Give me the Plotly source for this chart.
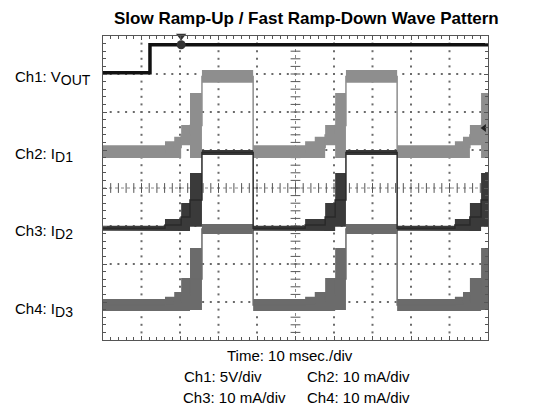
import plotly.graph_objects as go

# ---------------- data ----------------
# time in ms (10 ms/div), currents in mA relative to each channel's baseline marker
seg_start_ms = [0.0, 16.1, 18.5, 20.3, 22.6, 25.7, 39.0, 52.5, 55.0, 57.7, 60.3, 63.1,
                76.4, 91.4, 93.5, 95.3, 98.2]
end_ms = 100.0
# phase index of each segment: 0 base, 1 step1a, 2 step1b, 3 step2, 4 step3, 5 high
seg_phase = [0, 1, 2, 3, 4, 5, 0, 1, 2, 3, 4, 5, 0, 1, 2, 3, 4]

ch2_hi = [1.8, 2.8, 4.0, 7.1, 15.5, 21.6]
ch2_lo = [-1.6, -1.6, -1.6, 1.8, -1.6, 18.2]
ch3_hi = [0.6, 2.4, 2.4, 6.6, 14.5, 20.5]
ch3_lo = [-0.7, -0.8, -0.8, -0.8, 0.3, 19.2]
ch4_hi = [1.6, 2.2, 3.4, 7.1, 15.0, 21.3]
ch4_lo = [-1.6, -1.6, -1.6, -1.6, -1.3, 18.7]

ch1_t = [0.0, 12.2, 100.0]
ch1_v = [0.0, 3.7, 3.7]

trigger_ms = 20.3
trigger_level_mA = 6.3

title = "Slow Ramp-Up / Fast Ramp-Down Wave Pattern"
ch_names = ["Ch1: V", "Ch2: I", "Ch3: I", "Ch4: I"]
ch_subs = ["OUT", "D1", "D2", "D3"]
time_text = "Time: 10 msec./div"
scale_texts = ["Ch1: 5V/div", "Ch2: 10 mA/div", "Ch3: 10 mA/div", "Ch4: 10 mA/div"]

# ---------------- layout constants ----------------
WIDTH, HEIGHT = 533, 415
L, R, T, B = 103, 488, 36, 340
PW, PH = R - L, B - T
FONT = "Liberation Sans, Arial, sans-serif"

ch1_pos, ch2_pos, ch3_pos, ch4_pos = 7.03, 4.947, 2.947, 0.921   # divisions
V_PER_DIV, MA_PER_DIV = 5.0, 10.0


def xp(px):
    return (px - L) / PW


def yp(py):
    return (B - py) / PH


fig = go.Figure()

# ---------------- graticule ----------------
dot_x, dot_y = [], []
for i in range(1, 10):
    if i == 5:
        continue
    for k in range(1, 40):
        dot_x.append(i * 10.0)
        dot_y.append(k * 0.2)
for j in range(1, 8):
    if j == 4:
        continue
    for k in range(1, 50):
        dot_x.append(k * 2.0)
        dot_y.append(float(j))
fig.add_trace(go.Scatter(x=dot_x, y=dot_y, mode="markers", hoverinfo="skip",
                         marker=dict(symbol="square", size=2, color="#6a6a6a"), showlegend=False))

# centre cross with ticks
fig.add_trace(go.Scatter(x=[50, 50], y=[0, 8], mode="lines", hoverinfo="skip",
                         line=dict(color="#888", width=1, dash="dot"), showlegend=False))
fig.add_trace(go.Scatter(x=[0, 100], y=[4, 4], mode="lines", hoverinfo="skip",
                         line=dict(color="#888", width=1, dash="dot"), showlegend=False))
fig.add_trace(go.Scatter(x=[50] * 39, y=[k * 0.2 for k in range(1, 40)], mode="markers",
                         hoverinfo="skip", showlegend=False,
                         marker=dict(symbol="line-ew", size=7, line=dict(color="#555", width=1))))
fig.add_trace(go.Scatter(x=[k * 2.0 for k in range(1, 50)], y=[4] * 49, mode="markers",
                         hoverinfo="skip", showlegend=False,
                         marker=dict(symbol="line-ns", size=7, line=dict(color="#555", width=1))))


# ---------------- channel traces ----------------
def band(pos, hi, lo, fill, line_col, lw):
    ux, uy, lx, ly = [], [], [], []
    edges = seg_start_ms + [end_ms]
    for s, ph in enumerate(seg_phase):
        t0, t1 = edges[s], edges[s + 1]
        ux += [t0, t1]
        uy += [pos + hi[ph] / MA_PER_DIV] * 2
        lx += [t0, t1]
        ly += [pos + lo[ph] / MA_PER_DIV] * 2
    fig.add_trace(go.Scatter(x=ux + lx[::-1], y=uy + ly[::-1], fill="toself", mode="lines",
                             fillcolor=fill, line=dict(width=0), hoverinfo="skip",
                             showlegend=False))
    mid = [pos + (hi[ph] + lo[ph]) / 2 / MA_PER_DIV for ph in seg_phase]
    fig.add_trace(go.Scatter(x=seg_start_ms + [end_ms], y=mid + [mid[-1]], mode="lines",
                             line=dict(color=line_col, width=lw, shape="hv"),
                             hoverinfo="skip", showlegend=False))


band(ch2_pos, ch2_hi, ch2_lo, "#8e8e8e", "#8e8e8e", 1.5)
band(ch4_pos, ch4_hi, ch4_lo, "#6b6b6b", "#6b6b6b", 1.5)
band(ch3_pos, ch3_hi, ch3_lo, "#3a3a3a", "#2a2a2a", 1.5)

fig.add_trace(go.Scatter(x=ch1_t, y=[ch1_pos + v / V_PER_DIV for v in ch1_v], mode="lines",
                         line=dict(color="#111", width=3.5, shape="hv"),
                         hoverinfo="skip", showlegend=False))

# trigger markers
fig.add_trace(go.Scatter(x=[trigger_ms], y=[8.0], mode="markers", cliponaxis=False,
                         marker=dict(symbol="triangle-down", size=9, color="#333"),
                         hoverinfo="skip", showlegend=False))
fig.add_trace(go.Scatter(x=[trigger_ms], y=[ch1_pos + ch1_v[-1] / V_PER_DIV], mode="markers",
                         marker=dict(symbol="circle", size=9, color="#333"),
                         hoverinfo="skip", showlegend=False))
fig.add_trace(go.Scatter(x=[99.0], y=[ch2_pos + trigger_level_mA / MA_PER_DIV], mode="markers",
                         marker=dict(symbol="triangle-left", size=7, color="#222"),
                         hoverinfo="skip", showlegend=False))

# ---------------- text ----------------
ann = []
label_py = [78, 155, 232, 310]
for name, sub, py in zip(ch_names, ch_subs, label_py):
    txt = name + "<sub><span style='font-size:14px'>" + sub + "</span></sub>"
    ann.append(dict(text=txt, xref="paper", yref="paper", x=xp(13), y=yp(py),
                    xanchor="left", yanchor="middle", showarrow=False,
                    font=dict(family=FONT, size=15, color="#000")))
ann.append(dict(text=time_text, xref="paper", yref="paper", x=xp(290), y=yp(355),
                xanchor="center", yanchor="middle", showarrow=False,
                font=dict(family=FONT, size=15, color="#000")))
for txt, (px, py) in zip(scale_texts, [(182, 376), (305, 376), (181, 397), (305, 397)]):
    ann.append(dict(text=txt, xref="paper", yref="paper", x=xp(px), y=yp(py),
                    xanchor="left", yanchor="middle", showarrow=False,
                    font=dict(family=FONT, size=15, color="#000")))
ann.append(dict(text="<b>" + title + "</b>", xref="paper", yref="paper", x=xp(306), y=yp(18),
                xanchor="center", yanchor="middle", showarrow=False,
                font=dict(family=FONT, size=17, color="#000")))

axis_common = dict(showgrid=False, zeroline=False, showticklabels=False, showline=True,
                   linecolor="#555", linewidth=1, mirror="ticks", ticks="inside",
                   ticklen=4, tickcolor="#555", fixedrange=True)

fig.update_layout(
    width=WIDTH, height=HEIGHT,
    margin=dict(l=L, r=WIDTH - R, t=T, b=HEIGHT - B, pad=0),
    paper_bgcolor="white", plot_bgcolor="white",
    xaxis=dict(range=[0, 100], tickmode="linear", tick0=0, dtick=10,
               minor=dict(dtick=2, ticks="inside", ticklen=3, tickcolor="#555"),
               **axis_common),
    yaxis=dict(range=[0, 8], tickmode="linear", tick0=0, dtick=1,
               minor=dict(dtick=0.2, ticks="inside", ticklen=3, tickcolor="#555"),
               **axis_common),
    annotations=ann,
    showlegend=False,
)

fig.write_html("out.html", config={"displayModeBar": False},
               post_script="document.body.style.margin='0';document.body.style.padding='0';")
